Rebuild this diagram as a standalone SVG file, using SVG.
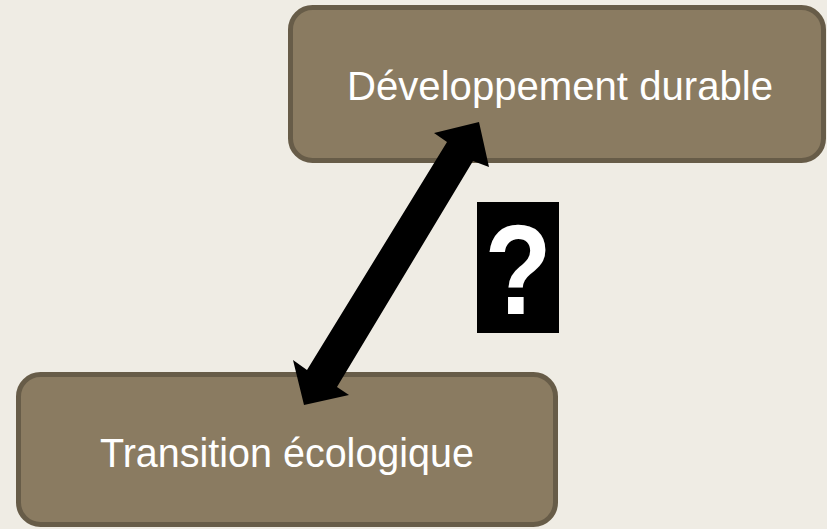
<svg xmlns="http://www.w3.org/2000/svg" width="827" height="529" viewBox="0 0 827 529">
<style>
.box{fill:#8a7b61;stroke:#675c48;stroke-width:5}
.lbl{font-family:"Liberation Sans",Arial,sans-serif;font-size:40px;fill:#ffffff;text-anchor:middle}
</style>
<rect x="0" y="0" width="827" height="529" fill="#efece4"/>
<g id="node-dev">
<rect class="box" x="290.500" y="7.500" width="533" height="153" rx="22"/>
<text class="lbl" x="560" y="100" textLength="426" lengthAdjust="spacingAndGlyphs">Développement durable</text>
</g>
<g id="node-trans">
<rect class="box" x="18.500" y="374.500" width="537" height="150" rx="22"/>
<text class="lbl" x="287" y="467" textLength="374" lengthAdjust="spacingAndGlyphs">Transition écologique</text>
</g>
<g id="connectors">
<polygon fill="#000000" points="479,122 489,167 473,161 337,387 349,395 304,405 293,360 307,370 447,142 434,133"/>
</g>
<g id="question">
<rect x="477" y="202" width="82" height="131" fill="#000000"/>
<text transform="translate(518,314) scale(0.86,1)" x="0" y="0" font-family="'Liberation Sans',Arial,sans-serif" font-weight="bold" font-size="128" fill="#ffffff" text-anchor="middle">?</text>
</g>
</svg>
